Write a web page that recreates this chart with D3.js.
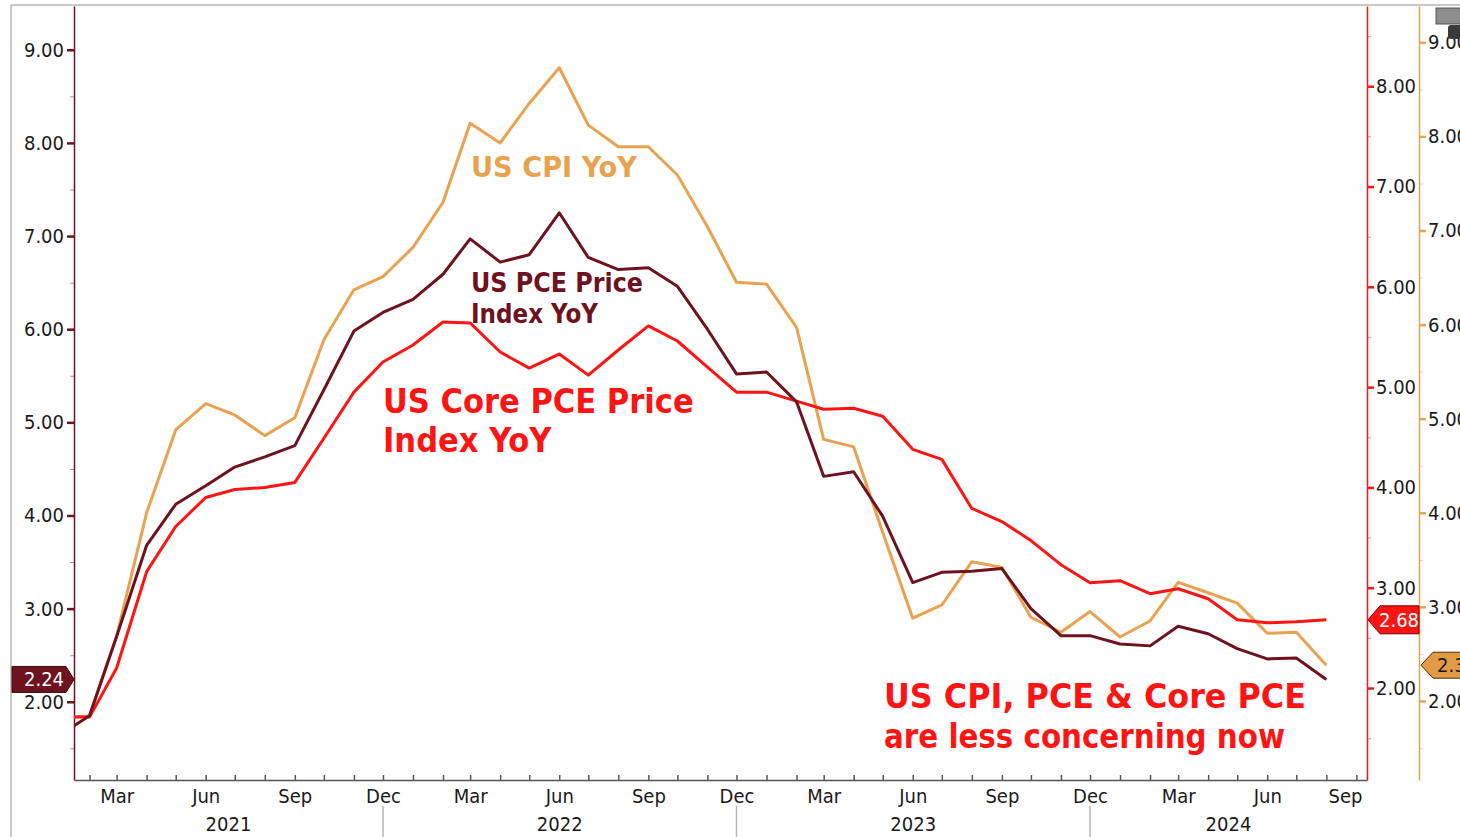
<!DOCTYPE html>
<html>
<head>
<meta charset="utf-8">
<script src="https://cdn.jsdelivr.net/npm/d3@7"></script>
<style>
body { margin: 0; background: #fff; overflow: hidden; }
svg { display: block; }
text { font-family: "DejaVu Sans Condensed", "DejaVu Sans", sans-serif; }
</style>
</head>
<body>
<svg id="chart" width="1460" height="837"></svg>
<script>
// monthly observations, Jan 2021 .. Aug 2024
var months = ["2021-01","2021-02","2021-03","2021-04","2021-05","2021-06","2021-07","2021-08","2021-09","2021-10","2021-11","2021-12",
              "2022-01","2022-02","2022-03","2022-04","2022-05","2022-06","2022-07","2022-08","2022-09","2022-10","2022-11","2022-12",
              "2023-01","2023-02","2023-03","2023-04","2023-05","2023-06","2023-07","2023-08","2023-09","2023-10","2023-11","2023-12",
              "2024-01","2024-02","2024-03","2024-04","2024-05","2024-06","2024-07","2024-08"];

var cpiYoY = [1.82,1.84,2.69,4.00,4.88,5.16,5.04,4.82,5.01,5.84,6.37,6.51,
              6.82,7.30,8.14,7.93,8.35,8.73,8.12,7.89,7.89,7.59,7.04,6.45,
              6.43,5.97,4.78,4.70,3.79,2.88,3.02,3.48,3.42,2.89,2.73,2.95,
              2.68,2.85,3.26,3.15,3.04,2.72,2.73,2.38];

var pceYoY = [1.64,1.85,2.70,3.68,4.12,4.32,4.52,4.63,4.75,5.35,5.98,6.18,
              6.32,6.59,6.97,6.72,6.80,7.25,6.77,6.64,6.66,6.46,6.00,5.52,
              5.54,5.22,4.42,4.47,3.99,3.28,3.39,3.40,3.43,3.00,2.71,2.71,
              2.62,2.60,2.81,2.73,2.57,2.46,2.47,2.24];

var corePceYoY = [1.71,1.71,2.20,3.16,3.61,3.90,3.98,4.00,4.05,4.49,4.95,5.25,
                  5.42,5.65,5.64,5.35,5.19,5.33,5.12,5.37,5.61,5.46,5.20,4.95,
                  4.95,4.86,4.78,4.79,4.71,4.38,4.28,3.79,3.66,3.47,3.23,3.05,
                  3.07,2.94,2.99,2.89,2.68,2.65,2.66,2.68];

var leftTicks   = [2,3,4,5,6,7,8,9];
var coreTicks   = [2,3,4,5,6,7,8];
var cpiTicks    = [2,3,4,5,6,7,8,9];
var minorTicks  = [1.5,2.5,3.5,4.5,5.5,6.5,7.5,8.5];
var quarterMonths = ["Mar","Jun","Sep","Dec"];
var years = ["2021","2022","2023","2024"];

var C_CPI = "#e9a24f", C_PCE = "#6e1220", C_CORE = "#ff1414";

var svg = d3.select("#chart");
var pLeft = 74, pRight = 1367, pTop = 6, pBottom = 780;
var parse = d3.timeParse("%Y-%m");
var dates = months.map(parse);

var x = d3.scaleTime()
    .domain([new Date(2021, 0, 16), new Date(2024, 8, 12)])
    .range([pLeft, pRight]);
var yL = d3.scaleLinear().domain([1.16, 9.47]).range([pBottom, pTop]);
var yR = d3.scaleLinear().domain([1.083, 8.80]).range([pBottom, pTop]);
var yO = d3.scaleLinear().domain([1.16, 9.386]).range([pBottom, pTop]);

// frame
svg.append("line").attr("x1", 11).attr("x2", 1460).attr("y1", 5).attr("y2", 5)
   .style("stroke", "#c8c8c8").style("stroke-width", 2);
svg.append("line").attr("x1", 11).attr("x2", 11).attr("y1", 5).attr("y2", 837)
   .style("stroke", "#c8c8c8").style("stroke-width", 2);

svg.append("defs").append("clipPath").attr("id", "plot")
   .append("rect").attr("x", pLeft).attr("y", pTop).attr("width", pRight - pLeft).attr("height", pBottom - pTop);

// y axes
function styleAxis(g, col) {
    g.select(".domain").style("stroke", col).style("stroke-width", 1.5);
    g.selectAll(".tick line").style("stroke", col).style("stroke-width", 2.5);
    g.selectAll(".tick text").style("font-size", "20px").style("fill", "#1a1a1a");
}
function minorAxis(axis, pos, col) {
    var g = svg.append("g").attr("transform", "translate(" + pos + ",0)")
        .call(axis.tickValues(minorTicks).tickSize(4).tickSizeOuter(0).tickFormat(""));
    g.select(".domain").remove();
    g.selectAll(".tick line").style("stroke", col).style("opacity", 0.5);
}

minorAxis(d3.axisLeft(yL), pLeft, C_PCE);
svg.append("g").attr("transform", "translate(" + pLeft + ",0)")
   .call(d3.axisLeft(yL).tickValues(leftTicks).tickFormat(d3.format(".2f")).tickSize(7).tickSizeOuter(0).tickPadding(3))
   .call(styleAxis, C_PCE);

minorAxis(d3.axisRight(yR), pRight, C_CORE);
svg.append("g").attr("transform", "translate(" + pRight + ",0)")
   .call(d3.axisRight(yR).tickValues(coreTicks).tickFormat(d3.format(".2f")).tickSize(7).tickSizeOuter(0).tickPadding(2))
   .call(styleAxis, C_CORE);

minorAxis(d3.axisRight(yO), 1419, C_CPI);
svg.append("g").attr("transform", "translate(1419,0)")
   .call(d3.axisRight(yO).tickValues(cpiTicks).tickFormat(d3.format(".2f")).tickSize(7).tickSizeOuter(0).tickPadding(2))
   .call(styleAxis, C_CPI);

// x axis
var fmtMonth = d3.timeFormat("%b");
var xg = svg.append("g").attr("transform", "translate(0," + pBottom + ")")
    .call(d3.axisBottom(x).ticks(d3.timeMonth.every(1))
        .tickFormat(function(d){ var m = fmtMonth(d); return quarterMonths.indexOf(m) >= 0 ? m : ""; })
        .tickSize(-5).tickSizeOuter(0).tickPadding(9));
xg.select(".domain").style("stroke", "#555").style("stroke-width", 1.5);
xg.selectAll(".tick line").style("stroke", "#555").style("stroke-width", 1.5);
xg.selectAll(".tick text").style("font-size", "20px").style("fill", "#1a1a1a")
  .attr("x", function(d){ return Math.min(0, 1345 - x(d)); });

var yearEdges = [x.range()[0]];
years.slice(0, 3).forEach(function(y){ yearEdges.push(x(new Date(+y, 11, 1))); });
yearEdges.push(x.range()[1]);

svg.selectAll(".ysep").data(yearEdges.slice(1, 4)).enter().append("line")
   .attr("x1", function(d){ return d; }).attr("x2", function(d){ return d; })
   .attr("y1", 806).attr("y2", 837)
   .style("stroke", "#b5b5b5").style("stroke-width", 1.5);

svg.selectAll(".year").data(years).enter().append("text")
   .attr("x", function(d, i){ return (yearEdges[i] + yearEdges[i + 1]) / 2; })
   .attr("y", 831)
   .attr("text-anchor", "middle")
   .style("font-size", "20px").style("fill", "#1a1a1a")
   .text(function(d){ return d; });

// lines
var plot = svg.append("g").attr("clip-path", "url(#plot)");
function addLine(vals, yScale, col) {
    plot.append("path")
        .datum(vals)
        .attr("d", d3.line().x(function(d, i){ return x(dates[i]); }).y(function(d){ return yScale(d); }))
        .style("fill", "none").style("stroke", col).style("stroke-width", 3)
        .style("stroke-linejoin", "round");
}
addLine(cpiYoY, yO, C_CPI);
addLine(corePceYoY, yR, C_CORE);
addLine(pceYoY, yL, C_PCE);

// last value tags
var lastPce = pceYoY[pceYoY.length - 1],
    lastCore = corePceYoY[corePceYoY.length - 1],
    lastCpi = cpiYoY[cpiYoY.length - 1];

function tag(pts, fill, stroke, label, tx, ty, tcol, anchor) {
    svg.append("path").attr("d", d3.line()(pts) + "Z")
       .style("fill", fill).style("stroke", stroke).style("stroke-width", 1);
    svg.append("text").attr("x", tx).attr("y", ty).attr("text-anchor", anchor)
       .style("font-size", "20px").style("fill", tcol).text(label);
}
var ty = yL(lastPce);
tag([[12, ty - 13], [66, ty - 13], [74, ty], [66, ty + 13], [12, ty + 13]], C_PCE, "#3a0a10",
    d3.format(".2f")(lastPce), 44, ty + 7, "#fff", "middle");
ty = yR(lastCore);
tag([[1368, ty], [1380, ty - 14], [1419, ty - 14], [1419, ty + 14], [1380, ty + 14]], C_CORE, "#7a0000",
    d3.format(".2f")(lastCore), 1399, ty + 7, "#fff", "middle");
ty = yO(lastCpi);
tag([[1421, ty], [1433, ty - 13], [1475, ty - 13], [1475, ty + 13], [1433, ty + 13]], "#e39a45", "#4a3010",
    d3.format(".2f")(lastCpi), 1437, ty + 7, "#1a1a1a", "start");

// annotations
function note(rows, x0, y0, dy, size, col, widths) {
    var t = svg.append("text").attr("x", x0).attr("y", y0)
        .style("font-size", size + "px").style("font-weight", "bold").style("fill", col);
    rows.forEach(function(s, i){
        var ts = t.append("tspan").attr("x", x0).attr("y", y0 + i * dy).text(s);
        if (widths) ts.attr("textLength", widths[i]).attr("lengthAdjust", "spacingAndGlyphs");
    });
}
note(["US CPI YoY"], 471, 177, 0, 29, C_CPI, [166]);
note(["US PCE Price", "Index YoY"], 471, 292, 31, 26, C_PCE, [172, 127]);
note(["US Core PCE Price", "Index YoY"], 383, 413, 39, 34, C_CORE);
note(["US CPI, PCE & Core PCE", "are less concerning now"], 884, 708, 40, 34, C_CORE, [422, 401]);

// widget in the corner
svg.append("rect").attr("x", 1436).attr("y", 8).attr("width", 26).attr("height", 16)
   .style("fill", "#8c8c8c").style("stroke", "#555");
svg.append("rect").attr("x", 1448).attr("y", 25).attr("width", 14).attr("height", 14).attr("rx", 3)
   .style("fill", "#3a3a3a");
</script>
</body>
</html>
